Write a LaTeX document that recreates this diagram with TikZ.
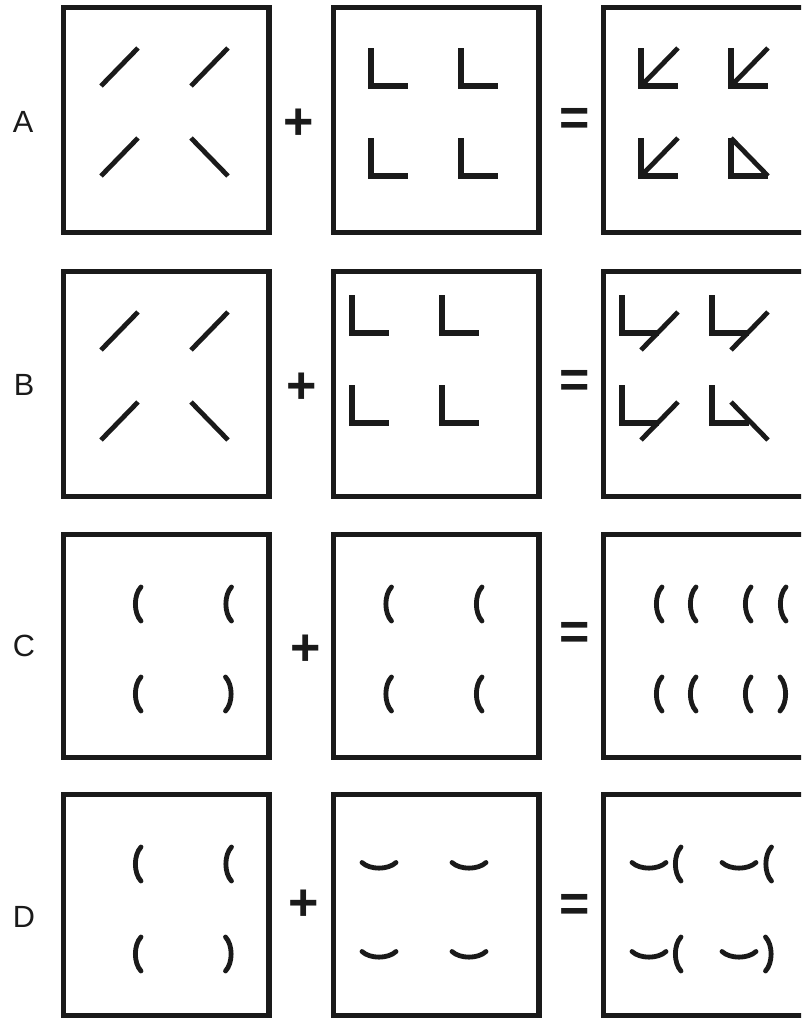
\documentclass[tikz,border=0pt]{standalone}
\usepackage{fontspec}
\setmainfont{Liberation Sans}
\usepackage{tikz}
\definecolor{cInk}{HTML}{1A1A1A}
\tikzset{
  panel/.style ={draw=cInk,line width=4.1pt,inner sep=0pt,anchor=north west,
                 minimum width=154.1pt,minimum height=168.4pt},
  lbl/.style   ={font=\fontsize{23}{23}\selectfont,text=cInk,inner sep=0pt},
  op/.style    ={font=\fontsize{39}{39}\selectfont\bfseries,text=cInk,inner sep=0pt},
  bar/.style   ={line width=4.5pt,draw=cInk},
  diag/.style  ={line width=3.6pt,draw=cInk},
  crv/.style   ={line width=3.6pt,draw=cInk,line cap=round},
  % single marks
  pics/ell/.style  ={code={\draw[bar] (0,0) -- (0,38) -- (37,38);}},
  pics/fwd/.style  ={code={\draw[diag] (0,38) -- (37,0);}},
  pics/bwd/.style  ={code={\draw[diag] (0,0) -- (37,38);}},
  pics/lpar/.style ={code={\draw[crv] (3,0) .. controls (-4.5,8) and (-4.5,26) .. (3,34);}},
  pics/rpar/.style ={code={\draw[crv] (-3,0) .. controls (4.5,8) and (4.5,26) .. (-3,34);}},
  pics/smile/.style={code={\draw[crv] (-17,0) .. controls (-9,7.5) and (9,7.5) .. (17,0);}},
  % panel contents
  pics/slashes/.style={code={
    \pic at (40,43) {fwd}; \pic at (130,43) {fwd};
    \pic at (40,133) {fwd}; \pic at (130,133) {bwd};}},
  pics/ellsA/.style={code={
    \foreach \gx in {40,130} \foreach \gy in {43,133} \pic at (\gx,\gy) {ell};}},
  pics/ellsB/.style={code={
    \foreach \gx in {21,111} \foreach \gy in {26,116} \pic at (\gx,\gy) {ell};}},
  pics/parens/.style={code={
    \pic at (77,55) {lpar}; \pic at (167.5,55) {lpar};
    \pic at (77,145) {lpar}; \pic at (167.5,145) {rpar};}},
  pics/smiles/.style={code={
    \foreach \gx in {48,138} \foreach \gy in {70.5,159.5} \pic at (\gx,\gy) {smile};}},
}
\begin{document}
\begin{tikzpicture}[x=0.75pt,y=-0.75pt]
\useasboundingbox (0,0) rectangle (801,1018);
\fill[white] (0,0) rectangle (801,1018);
\clip (0,0) rectangle (801,1018);

% row A
\node[panel] (A1) at (61,5) {};
\node[panel] (A2) at (331,5) {};
\node[panel] (A3) at (601,5) {};
\node[lbl] (la) at (23,122) {A};
\node[op] (pa) at (299,124) {+};
\node[op] (ea) at (574.5,122) {=};
\pic at (A1.north west) {slashes};
\pic at (A2.north west) {ellsA};
\pic at (A3.north west) {slashes};
\pic at (A3.north west) {ellsA};

% row B
\node[panel] (B1) at (61,269) {};
\node[panel] (B2) at (331,269) {};
\node[panel] (B3) at (601,269) {};
\node[lbl] (lb) at (24,385) {B};
\node[op] (pb) at (302,388) {+};
\node[op] (eb) at (574.5,383.5) {=};
\pic at (B1.north west) {slashes};
\pic at (B2.north west) {ellsB};
\pic at (B3.north west) {slashes};
\pic at (B3.north west) {ellsB};

% row C
\node[panel,minimum height=166.9pt] (C1) at (61,532) {};
\node[panel,minimum height=166.9pt] (C2) at (331,532) {};
\node[panel,minimum height=166.9pt] (C3) at (601,532) {};
\node[lbl] (lc) at (24,646) {C};
\node[op] (pc) at (306,650) {+};
\node[op] (ec) at (574.5,636) {=};
\pic at (C1.north west) {parens};
\begin{scope}[shift={(C2.north west)}]
  \foreach \gx in {57.5,148} \foreach \gy in {55,145} \pic at (\gx,\gy) {lpar};
\end{scope}
\begin{scope}[shift={(C3.north west)}]
  \foreach \gx in {58,92,147,182} \pic at (\gx,55) {lpar};
  \foreach \gx in {58,92,147} \pic at (\gx,145) {lpar};
  \pic at (182,145) {rpar};
\end{scope}

% row D
\node[panel,minimum height=165.4pt] (D1) at (61,792) {};
\node[panel,minimum height=165.4pt] (D2) at (331,792) {};
\node[panel,minimum height=165.4pt] (D3) at (601,792) {};
\node[lbl] (ld) at (24,917) {D};
\node[op] (pd) at (303.5,905) {+};
\node[op] (ed) at (574.5,908) {=};
\pic at (D1.north west) {parens};
\pic at (D2.north west) {smiles};
\pic at (D3.north west) {parens};
\pic at (D3.north west) {smiles};
\end{tikzpicture}
\end{document}
